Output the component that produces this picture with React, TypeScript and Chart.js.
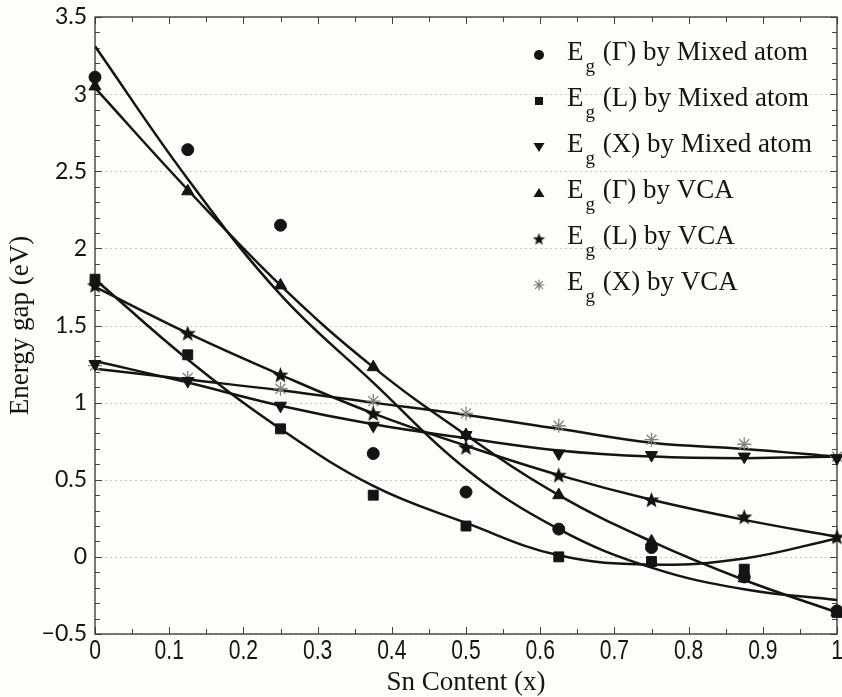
import React, { useEffect, useRef } from 'react';
import { Chart, registerables } from 'chart.js';

Chart.register(...registerables);

// Sn content (x) sampling positions
const xValues = [0, 0.125, 0.25, 0.375, 0.5, 0.625, 0.75, 0.875, 1];

// Computed points (markers)
const gammaMixed = [3.11, 2.64, 2.15, 0.67, 0.42, 0.18, 0.06, -0.13, -0.35];
const lMixed = [1.8, 1.31, 0.83, 0.4, 0.2, 0.0, -0.03, -0.08, -0.36];
const xMixed = [1.25, 1.14, 0.98, 0.85, 0.79, 0.67, 0.66, 0.65, 0.64];
const gammaVCA = [3.05, 2.37, 1.76, 1.23, 0.79, 0.4, 0.1, -0.14, -0.36];
const lVCA = [1.76, 1.45, 1.18, 0.93, 0.71, 0.53, 0.37, 0.26, 0.13];
const xVCA = [1.24, 1.16, 1.09, 1.01, 0.93, 0.85, 0.76, 0.73, 0.65];

// Fitted curves, read at the same x positions
const gammaMixedFit = [3.31, 2.45, 1.7, 1.13, 0.57, 0.18, -0.07, -0.21, -0.28];
const lMixedFit = [1.8, 1.28, 0.83, 0.46, 0.22, 0.01, -0.05, -0.01, 0.12];
const xMixedFit = [1.27, 1.13, 0.98, 0.86, 0.77, 0.69, 0.65, 0.64, 0.65];
const gammaVCAFit = [3.04, 2.38, 1.76, 1.23, 0.79, 0.4, 0.1, -0.15, -0.36];
const lVCAFit = [1.75, 1.45, 1.18, 0.93, 0.72, 0.53, 0.37, 0.24, 0.13];
const xVCAFit = [1.22, 1.15, 1.08, 1.0, 0.92, 0.83, 0.74, 0.7, 0.65];

// Tick labels
const xTickLabels = ['0', '0.1', '0.2', '0.3', '0.4', '0.5', '0.6', '0.7', '0.8', '0.9', '1'];
const yTickLabels = ['\u22120.5', '0', '0.5', '1', '1.5', '2', '2.5', '3', '3.5'];

// Legend text
const legendSymbols = ['\u0393', 'L', 'X', '\u0393', 'L', 'X'];
const legendMethods = ['by Mixed atom', 'by Mixed atom', 'by Mixed atom', 'by VCA', 'by VCA', 'by VCA'];

const xTitle = 'Sn Content (x)';
const yTitle = 'Energy gap (eV)';

function makeStar(size: number): HTMLCanvasElement {
  const c = document.createElement('canvas');
  c.width = size;
  c.height = size;
  const g = c.getContext('2d')!;
  const cx = size / 2;
  const cy = size / 2 + size * 0.04;
  const ro = size / 2;
  const ri = ro * 0.42;
  g.beginPath();
  for (let i = 0; i < 10; i++) {
    const r = i % 2 === 0 ? ro : ri;
    const a = -Math.PI / 2 + (i * Math.PI) / 5;
    const px = cx + r * Math.cos(a);
    const py = cy + r * Math.sin(a);
    if (i === 0) g.moveTo(px, py);
    else g.lineTo(px, py);
  }
  g.closePath();
  g.fillStyle = '#111';
  g.fill();
  return c;
}

function pts(ys: number[]) {
  return ys.map((y, i) => ({ x: xValues[i], y }));
}

const INK = '#141414';

export default function App() {
  const ref = useRef<HTMLCanvasElement>(null);

  useEffect(() => {
    const starBig = makeStar(17);
    const starSmall = makeStar(13);

    const markerBase = {
      showLine: false,
      clip: false as const,
      backgroundColor: INK,
      borderColor: INK,
      borderWidth: 1,
    };
    const lineBase = {
      showLine: true,
      pointRadius: 0,
      borderColor: INK,
      borderWidth: 2.5,
      tension: 0.4,
      fill: false,
    };

    const drawLegendMarker = (ctx: CanvasRenderingContext2D, k: number, x: number, y: number) => {
      ctx.save();
      ctx.fillStyle = INK;
      ctx.strokeStyle = INK;
      ctx.beginPath();
      if (k === 0) {
        ctx.arc(x, y, 5, 0, Math.PI * 2);
        ctx.fill();
      } else if (k === 1) {
        ctx.fillRect(x - 4, y - 4, 8, 8);
      } else if (k === 2) {
        ctx.moveTo(x - 5.5, y - 4);
        ctx.lineTo(x + 5.5, y - 4);
        ctx.lineTo(x, y + 5);
        ctx.closePath();
        ctx.fill();
      } else if (k === 3) {
        ctx.moveTo(x - 5.5, y + 4);
        ctx.lineTo(x + 5.5, y + 4);
        ctx.lineTo(x, y - 5);
        ctx.closePath();
        ctx.fill();
      } else if (k === 4) {
        ctx.drawImage(starSmall, x - 6.5, y - 6.5);
      } else {
        ctx.strokeStyle = '#777';
        ctx.lineWidth = 1.2;
        const r = 5.5;
        for (let i = 0; i < 4; i++) {
          const a = (i * Math.PI) / 4;
          ctx.moveTo(x - r * Math.cos(a), y - r * Math.sin(a));
          ctx.lineTo(x + r * Math.cos(a), y + r * Math.sin(a));
        }
        ctx.stroke();
      }
      ctx.restore();
    };

    const framePlugin = {
      id: 'frameTicks',
      beforeDatasetsDraw(chart: any) {
        const { ctx, chartArea: a, scales } = chart;
        const xs = scales.x;
        const ys = scales.y;
        ctx.save();
        // dotted horizontal grid
        ctx.strokeStyle = '#c9c9c9';
        ctx.lineWidth = 1;
        ctx.setLineDash([2, 3]);
        ys.ticks.forEach((t: any) => {
          const py = Math.round(ys.getPixelForValue(t.value)) + 0.5;
          ctx.beginPath();
          ctx.moveTo(a.left, py);
          ctx.lineTo(a.right, py);
          ctx.stroke();
        });
        ctx.setLineDash([]);
        // minor/major inward ticks
        ctx.strokeStyle = '#444';
        ctx.lineWidth = 1;
        const xmin = xs.min, xmax = xs.max;
        const nx = Math.round((xmax - xmin) / 0.05);
        for (let i = 0; i <= nx; i++) {
          const v = xmin + i * 0.05;
          const px = Math.round(xs.getPixelForValue(v)) + 0.5;
          const len = i % 2 === 0 ? 7 : 5;
          ctx.beginPath();
          ctx.moveTo(px, a.bottom);
          ctx.lineTo(px, a.bottom - len);
          ctx.moveTo(px, a.top);
          ctx.lineTo(px, a.top + len);
          ctx.stroke();
        }
        const ymin = ys.min, ymax = ys.max;
        const ny = Math.round((ymax - ymin) / 0.1);
        for (let i = 0; i <= ny; i++) {
          const v = ymin + i * 0.1;
          const py = Math.round(ys.getPixelForValue(v)) + 0.5;
          const len = i % 5 === 0 ? 7 : 5;
          ctx.beginPath();
          ctx.moveTo(a.left, py);
          ctx.lineTo(a.left + len, py);
          ctx.moveTo(a.right, py);
          ctx.lineTo(a.right - len, py);
          ctx.stroke();
        }
        // frame
        ctx.strokeStyle = '#333';
        ctx.lineWidth = 1.3;
        ctx.strokeRect(a.left, a.top, a.right - a.left, a.bottom - a.top);

        // condensed x tick labels (drawn from the library's ticks)
        ctx.fillStyle = INK;
        ctx.font = '27px "Liberation Sans", Arial, sans-serif';
        ctx.textAlign = 'center';
        ctx.textBaseline = 'top';
        xs.ticks.forEach((t: any, i: number) => {
          const px = xs.getPixelForValue(t.value);
          ctx.save();
          ctx.translate(px, a.bottom + 4);
          ctx.scale(0.78, 1);
          ctx.fillText(xTickLabels[i], 0, 0);
          ctx.restore();
        });
        ctx.restore();
      },
      afterDatasetsDraw(chart: any) {
        const { ctx } = chart;
        ctx.save();
        const mx = 539;
        const tx = 567;
        const y0 = 53;
        const dy = 46;
        const big = '27px "Liberation Serif", "Times New Roman", serif';
        const sub = '19px "Liberation Serif", "Times New Roman", serif';
        ctx.fillStyle = INK;
        ctx.textBaseline = 'middle';
        ctx.textAlign = 'left';
        for (let k = 0; k < 6; k++) {
          const y = y0 + k * dy;
          drawLegendMarker(ctx, k, mx, y + 2);
          ctx.fillStyle = INK;
          ctx.font = big;
          ctx.fillText('E', tx, y);
          const ew = ctx.measureText('E').width;
          ctx.font = sub;
          ctx.fillText('g', tx + ew + 2, y + 14);
          const gw = ctx.measureText('g').width;
          ctx.font = big;
          ctx.fillText(' (' + legendSymbols[k] + ') ' + legendMethods[k], tx + ew + gw + 3, y);
        }
        ctx.restore();
      },
    };

    const chart = new Chart(ref.current!, {
      type: 'scatter',
      data: {
        datasets: [
          { ...markerBase, label: 'Eg(Γ) Mixed', data: pts(gammaMixed), pointStyle: 'circle', pointRadius: 6 },
          { ...markerBase, label: 'Eg(L) Mixed', data: pts(lMixed), pointStyle: 'rect', pointRadius: 7 },
          { ...markerBase, label: 'Eg(X) Mixed', data: pts(xMixed), pointStyle: 'triangle', pointRotation: 180, pointRadius: 7 },
          { ...markerBase, label: 'Eg(Γ) VCA', data: pts(gammaVCA), pointStyle: 'triangle', pointRadius: 7 },
          { ...markerBase, label: 'Eg(L) VCA', data: pts(lVCA), pointStyle: starBig, pointRadius: 8 },
          { ...markerBase, label: 'Eg(X) VCA', data: pts(xVCA), pointStyle: 'star', pointRadius: 7, borderColor: '#808080', backgroundColor: '#808080', borderWidth: 1.3 },
          { ...lineBase, label: 'fit Γ Mixed', data: pts(gammaMixedFit) },
          { ...lineBase, label: 'fit L Mixed', data: pts(lMixedFit) },
          { ...lineBase, label: 'fit X Mixed', data: pts(xMixedFit) },
          { ...lineBase, label: 'fit Γ VCA', data: pts(gammaVCAFit) },
          { ...lineBase, label: 'fit L VCA', data: pts(lVCAFit) },
          { ...lineBase, label: 'fit X VCA', data: pts(xVCAFit) },
        ] as any,
      },
      options: {
        animation: false,
        responsive: false,
        devicePixelRatio: 1,
        layout: { autoPadding: false, padding: { top: 17, right: 5, left: 0, bottom: 0 } },
        plugins: {
          legend: { display: false },
          tooltip: { enabled: false },
        },
        scales: {
          x: {
            type: 'linear',
            min: 0,
            max: 1,
            grid: { display: false, drawTicks: false },
            border: { display: false },
            ticks: {
              display: false,
              stepSize: 0.1,
              autoSkip: false,
              maxRotation: 0,
              callback: (_v: any, i: number) => xTickLabels[i],
            },
            title: {
              display: true,
              text: xTitle,
              color: INK,
              font: { family: '"Liberation Serif", serif', size: 27, lineHeight: 1.0 },
              padding: { top: 0, bottom: 1 },
            },
            afterFit: (s: any) => {
              s.height = 63;
              s.paddingLeft = 0;
              s.paddingRight = 0;
            },
          },
          y: {
            type: 'linear',
            min: -0.5,
            max: 3.5,
            grid: { display: false, drawTicks: false },
            border: { display: false },
            ticks: {
              stepSize: 0.5,
              autoSkip: false,
              padding: 8,
              color: INK,
              font: { family: 'Lato, "Open Sans", sans-serif', size: 23 },
              callback: (_v: any, i: number) => yTickLabels[i],
            },
            title: {
              display: true,
              text: yTitle,
              color: INK,
              font: { family: '"Liberation Serif", serif', size: 27, lineHeight: 1.2 },
              padding: { top: 5, bottom: 0 },
            },
            afterFit: (s: any) => {
              s.width = 95;
              s.paddingTop = 0;
              s.paddingBottom = 0;
            },
          },
        },
      } as any,
      plugins: [framePlugin],
    });
    return () => chart.destroy();
  }, []);

  return (
    <div style={{ position: 'fixed', left: 0, top: 0, width: 842, height: 697, background: '#fdfdfb' }}>
      <canvas ref={ref} width={842} height={697} style={{ width: 842, height: 697, display: 'block' }} />
    </div>
  );
}
